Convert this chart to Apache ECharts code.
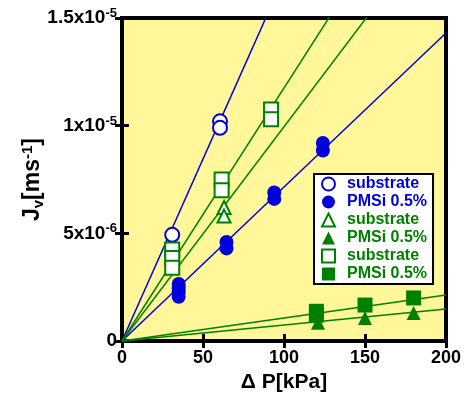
<!DOCTYPE html>
<html><head><meta charset="utf-8">
<script src="https://cdn.jsdelivr.net/npm/echarts@6/dist/echarts.min.js"></script>
<style>html,body{margin:0;padding:0;background:#fff}#c{width:467px;height:401px}</style>
</head><body><div id="c"></div>
<script>
// ---- data ----
const xTicks = [0, 50, 100, 150, 200];
const yTickMantissa = ['0', '5x10', '1x10', '1.5x10'];
const yTickExponent = ['', '-6', '-5', '-5'];

const blueSubX = [31, 60.5, 60.5];
const blueSubY = [4.93e-6, 1.02e-5, 9.9e-6];
const bluePmsX = [35, 35, 35, 35, 64.5, 64.5, 94, 94, 124, 124];
const bluePmsY = [2.65e-6, 2.45e-6, 2.25e-6, 2.05e-6, 4.6e-6, 4.3e-6, 6.9e-6, 6.6e-6, 9.2e-6, 8.85e-6];
const greenTriSubX = [63, 63];
const greenTriSubY = [6.2e-6, 5.8e-6];
const greenTriPmsX = [121, 150, 180];
const greenTriPmsY = [0.85e-6, 1.07e-6, 1.3e-6];
const greenSqSubX = [31, 31, 31, 61.5, 61.5, 92, 92];
const greenSqSubY = [4.25e-6, 3.85e-6, 3.4e-6, 7.5e-6, 7.0e-6, 1.075e-5, 1.03e-5];
const greenSqPmsX = [120, 120, 150, 180];
const greenSqPmsY = [1.38e-6, 1.2e-6, 1.67e-6, 2.0e-6];

// fitted lines through origin: [x0, x1] and [y0, y1]
const fitX = [0, 200];
const fitBlueSub = [0, 3.38e-5];
const fitBluePms = [0, 1.43e-5];
const fitGreenSqSub = [0, 2.35e-5];
const fitGreenTriSub = [0, 1.99e-5];
const fitGreenSqPms = [0, 2.14e-6];
const fitGreenTriPms = [0, 1.49e-6];

const legendNames = ['substrate', 'PMSi 0.5%', 'substrate\u200B', 'PMSi 0.5%\u200B', 'substrate\u200B\u200B', 'PMSi 0.5%\u200B\u200B'];

// ---- build ----
const BLUE = '#0000dd', GREEN = '#008000';
const FONT = 'Liberation Sans';
const pairs = (xs, ys) => xs.map((x, i) => [x, ys[i]]);

function lineSeries(name, ys, color) {
  return { name, type: 'line', data: pairs(fitX, ys), symbol: 'none', clip: true,
    lineStyle: { color, width: 1.5 }, z: 2, silent: true };
}
function scatter(name, xs, ys, symbol, color, open, size) {
  return { name, type: 'scatter', data: pairs(xs, ys), symbol, symbolSize: size, z: 5,
    itemStyle: open ? { color: '#ffffff', borderColor: color, borderWidth: 2, opacity: 1 }
                    : { color: color, opacity: 1 } };
}

const tickStyle = { show: true, inside: true, length: 7, lineStyle: { color: '#000', width: 3 } };
const chart = echarts.init(document.getElementById('c'));
chart.setOption({
  animation: false,
  backgroundColor: '#fff',
  grid: { left: 122, right: 21, top: 18, bottom: 60, show: true,
    backgroundColor: '#fff799', borderColor: '#000', borderWidth: 4 },
  legend: {
    orient: 'vertical', left: 314, top: 174, width: 124,
    backgroundColor: '#fff', borderColor: '#000', borderWidth: 2,
    padding: [2, 6, 2, 7], itemGap: 2, itemWidth: 13, itemHeight: 13,
    formatter: n => n.replace(/\u200B/g, ''),
    textStyle: { fontFamily: FONT, fontWeight: 'bold', fontSize: 16, lineHeight: 16, padding: [0, 0, 0, 7] },
    data: legendNames.map((n, i) => ({ name: n, textStyle: { color: i < 2 ? BLUE : GREEN } }))
  },
  xAxis: [{
    type: 'value', min: xTicks[0], max: xTicks[xTicks.length - 1], interval: 50,
    axisLine: { show: false }, splitLine: { show: false }, axisTick: tickStyle,
    axisLabel: { color: '#000', fontFamily: FONT, fontWeight: 'bold', fontSize: 18, margin: 8 },
    name: '\u0394 P[kPa]', nameLocation: 'middle', nameGap: 31, nameMoveOverlap: false,
    nameTextStyle: { color: '#000', fontFamily: FONT, fontWeight: 'bold', fontSize: 21 }
  }, {
    type: 'value', position: 'top', min: 0, max: 200, interval: 50,
    axisLine: { show: false }, splitLine: { show: false }, axisTick: tickStyle, axisLabel: { show: false }
  }],
  yAxis: [{
    type: 'value', min: 0, max: 1.5e-5, interval: 5e-6,
    axisLine: { show: false }, splitLine: { show: false }, axisTick: tickStyle,
    axisLabel: {
      margin: 5,
      formatter: v => { const i = Math.round(v / 5e-6); return yTickExponent[i] ? '{m|' + yTickMantissa[i] + '}{e|' + yTickExponent[i] + '}' : '{m|' + yTickMantissa[i] + '}'; },
      rich: {
        m: { color: '#000', fontFamily: FONT, fontWeight: 'bold', fontSize: 19, lineHeight: 22 },
        e: { color: '#000', fontFamily: FONT, fontWeight: 'bold', fontSize: 13, lineHeight: 13, verticalAlign: 'top' }
      }
    },
    name: '{a|J}{b|v}{a|[ms}{c|-1}{a|]}', nameLocation: 'middle', nameGap: 76, nameRotate: 90,
    nameMoveOverlap: false,
    nameTextStyle: {
      rich: {
        a: { color: '#000', fontFamily: FONT, fontWeight: 'bold', fontSize: 23, lineHeight: 26 },
        b: { color: '#000', fontFamily: FONT, fontWeight: 'bold', fontSize: 15, lineHeight: 15, verticalAlign: 'bottom' },
        c: { color: '#000', fontFamily: FONT, fontWeight: 'bold', fontSize: 15, lineHeight: 15, verticalAlign: 'top' }
      }
    }
  }, {
    type: 'value', position: 'right', min: 0, max: 1.5e-5, interval: 5e-6,
    axisLine: { show: false }, splitLine: { show: false }, axisTick: tickStyle, axisLabel: { show: false }
  }],
  series: [
    lineSeries('fit1', fitBlueSub, BLUE),
    lineSeries('fit2', fitBluePms, BLUE),
    lineSeries('fit3', fitGreenSqSub, GREEN),
    lineSeries('fit4', fitGreenTriSub, GREEN),
    lineSeries('fit5', fitGreenSqPms, GREEN),
    lineSeries('fit6', fitGreenTriPms, GREEN),
    scatter(legendNames[0], blueSubX, blueSubY, 'circle', BLUE, true, 14),
    scatter(legendNames[1], bluePmsX, bluePmsY, 'circle', BLUE, false, 14),
    scatter(legendNames[2], greenTriSubX, greenTriSubY, 'triangle', GREEN, true, 13),
    scatter(legendNames[3], greenTriPmsX, greenTriPmsY, 'triangle', GREEN, false, 14),
    scatter(legendNames[4], greenSqSubX, greenSqSubY, 'rect', GREEN, true, 14),
    scatter(legendNames[5], greenSqPmsX, greenSqPmsY, 'rect', GREEN, false, 15)
  ]
});
</script></body></html>
